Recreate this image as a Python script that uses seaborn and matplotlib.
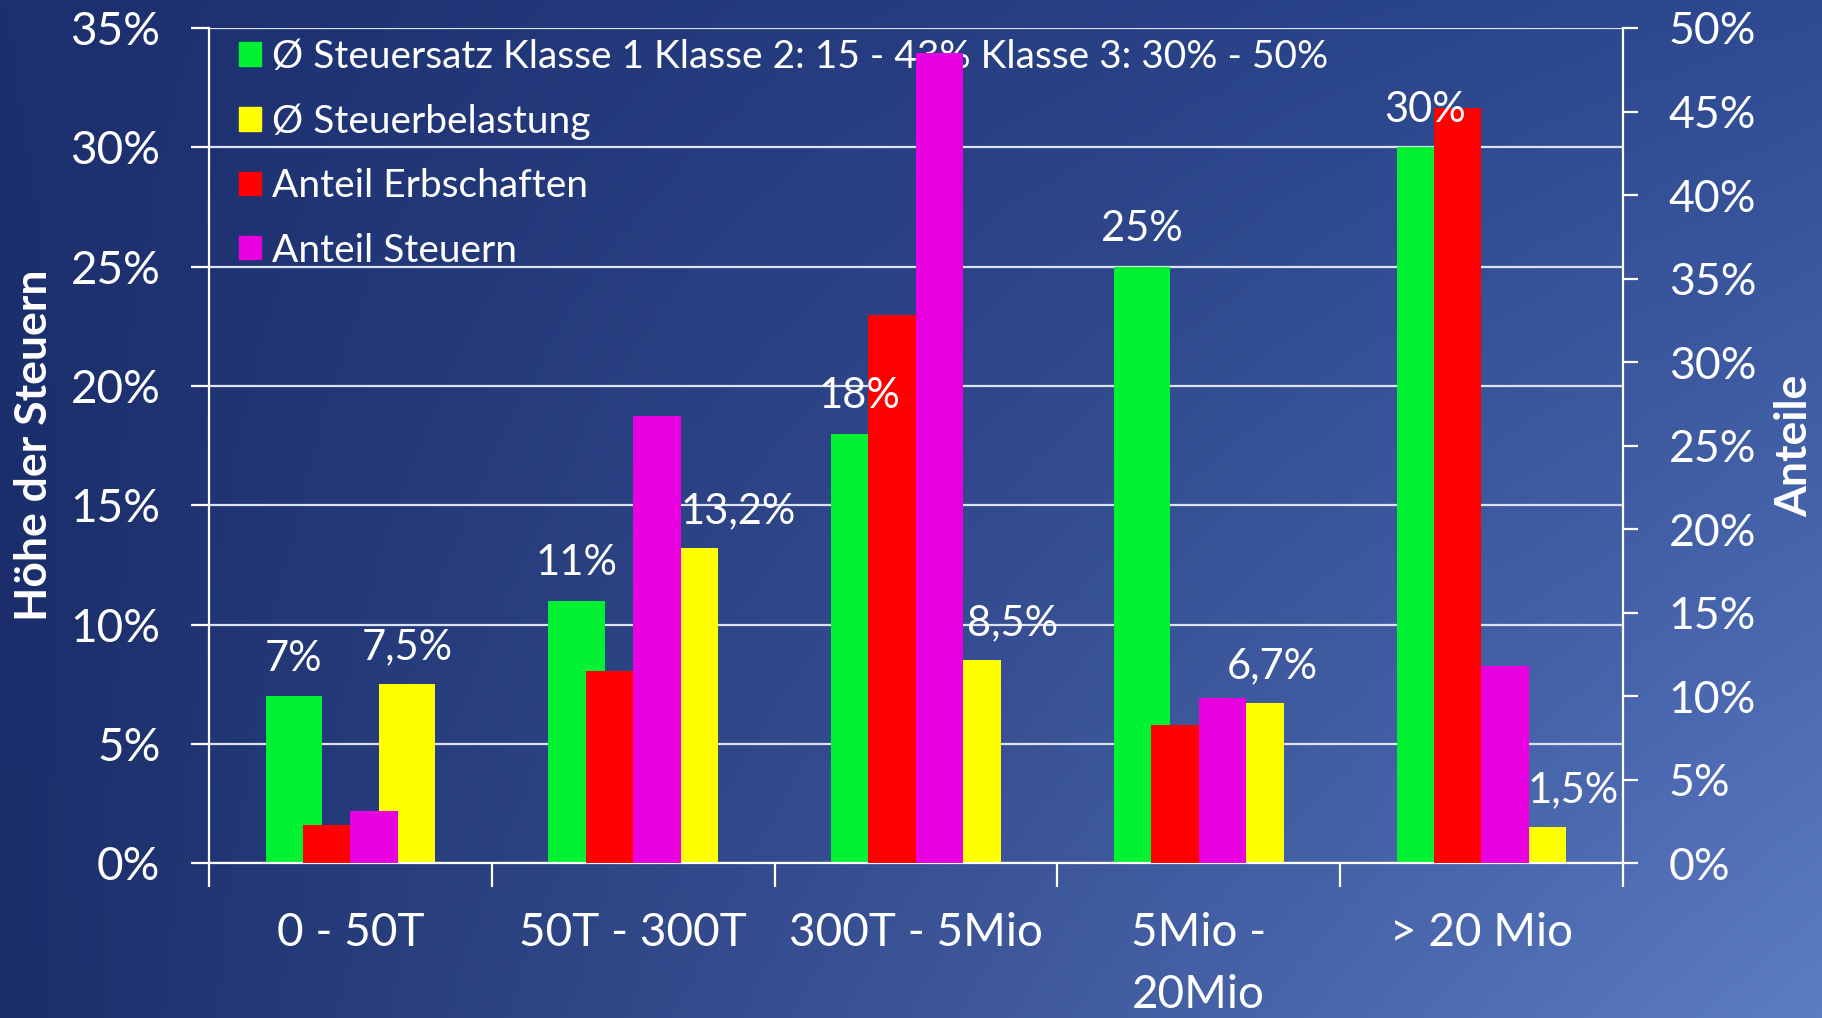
import numpy as np
import pandas as pd
import matplotlib.pyplot as plt
import seaborn as sns
from matplotlib.patches import Patch
from matplotlib.ticker import MultipleLocator, FuncFormatter

# Daten
klassen = ["0 - 50T", "50T - 300T", "300T - 5Mio", "5Mio -\n20Mio", "> 20 Mio"]
steuersatz = [7, 11, 18, 25, 30]
steuerbelastung = [7.5, 13.2, 8.5, 6.7, 1.5]
anteil_erbschaften = [2.3, 11.5, 32.8, 8.3, 45.2]
anteil_steuern = [3.1, 26.8, 48.5, 9.9, 11.8]

serien = ["Ø Steuersatz Klasse 1 Klasse 2: 15 - 43% Klasse 3: 30% - 50%",
          "Ø Steuerbelastung", "Anteil Erbschaften", "Anteil Steuern"]
farben = ["#00f233", "#ffff00", "#ff0000", "#e800e0"]

# label nudges (Excel labels were moved by hand)
gelb_label_dx = [0, 0.17, 0.14, 0.06, 0.125]

sns.set_theme(style="white")
plt.rcParams['font.family'] = ['Lato', 'DejaVu Sans']

fig = plt.figure(figsize=(18.22, 10.18), dpi=100)

# background gradient
bg = fig.add_axes([0, 0, 1, 1], zorder=-10)
tl = np.array([28, 47, 110]) / 255
tr = np.array([46, 74, 146]) / 255
bl = np.array([27, 46, 106]) / 255
br = np.array([92, 124, 196]) / 255
u = np.linspace(0, 1, 300)[None, :, None]
v = np.linspace(0, 1, 200)[:, None, None]
img = (1 - v) * ((1 - u) * tl + u * tr) + v * ((1 - u) * bl + u * br)
bg.imshow(img, aspect="auto", extent=[0, 1, 0, 1], origin="upper")
bg.set_axis_off()

ax = fig.add_axes([0.1147, 0.152, 0.776, 0.8205])
ax.set_facecolor("none")
ax2 = ax.twinx()

df_links = pd.DataFrame({
    "Klasse": klassen * 2,
    "Serie": [serien[0]] * 5 + [serien[1]] * 5,
    "Wert": steuersatz + steuerbelastung,
})
df_rechts = pd.DataFrame({
    "Klasse": klassen * 2,
    "Serie": [serien[2]] * 5 + [serien[3]] * 5,
    "Wert": anteil_erbschaften + anteil_steuern,
})

sns.barplot(data=df_links, x="Klasse", y="Wert", hue="Serie", hue_order=serien[:2],
            palette=farben[:2], width=0.8, gap=0.5, saturation=1, linewidth=0,
            errorbar=None, legend=False, ax=ax)
sns.barplot(data=df_rechts, x="Klasse", y="Wert", hue="Serie", hue_order=serien[2:],
            palette=farben[2:], width=0.336, gap=0, saturation=1, linewidth=0,
            errorbar=None, legend=False, ax=ax2)

ax.set_ylim(0, 35)
ax2.set_ylim(0, 50)
ax.set_xlim(-0.5, 4.5)
pct = FuncFormatter(lambda val, pos: f"{val:.0f}%")
ax.yaxis.set_major_locator(MultipleLocator(5))
ax.yaxis.set_major_formatter(pct)
ax2.yaxis.set_major_locator(MultipleLocator(5))
ax2.yaxis.set_major_formatter(pct)

ax.grid(axis="y", color="#dde3ee", lw=1.6)
ax.set_axisbelow(True)
ax2.grid(False)

for s in ["top", "right"]:
    ax.spines[s].set_visible(False)
for s in ["left", "bottom"]:
    ax.spines[s].set_color("white")
    ax.spines[s].set_linewidth(1.6)
for s in ["top", "left", "bottom"]:
    ax2.spines[s].set_visible(False)
ax2.spines["right"].set_color("white")
ax2.spines["right"].set_linewidth(1.6)

ax.tick_params(axis="y", left=True, direction="out", length=13, width=1.6,
               color="white", labelcolor="white", labelsize=33, pad=22)
ax2.tick_params(axis="y", right=True, direction="out", length=11, width=1.6,
                color="white", labelcolor="white", labelsize=32, pad=22)

ax.set_xticks(np.arange(6) - 0.5)
ax.set_xticklabels([])
ax.set_xticks(range(5), minor=True)
ax.set_xticklabels(klassen, minor=True, linespacing=1.6)
ax.tick_params(axis="x", which="major", bottom=True, direction="out", length=17,
               width=1.6, color="white")
ax.tick_params(axis="x", which="minor", bottom=True, length=0, labelcolor="white",
               labelsize=33, pad=35)

ax.set_xlabel("")
ax.set_ylabel("Höhe der Steuern", fontsize=32, fontweight="bold", color="white",
              va="center", ha="center")
ax.yaxis.set_label_coords(-0.124, 0.5)
ax2.set_ylabel("Anteile", fontsize=32, fontweight="bold", color="white",
               va="center", ha="center")
ax2.yaxis.set_label_coords(1.121, 0.5)

# value labels for the green and yellow bars
for bar, val in zip(ax.containers[0], steuersatz):
    ax2.annotate(f"{val:g}%", xy=(bar.get_x() + bar.get_width() / 2, bar.get_height()),
                 xycoords=ax.transData, xytext=(0, 27), textcoords="offset points",
                 ha="center", va="center", color="white", fontsize=30, zorder=10)
for bar, val, dx in zip(ax.containers[1], steuerbelastung, gelb_label_dx):
    ax2.annotate(f"{val:g}%".replace(".", ","),
                 xy=(bar.get_x() + bar.get_width() / 2 + dx, bar.get_height()),
                 xycoords=ax.transData, xytext=(0, 27), textcoords="offset points",
                 ha="center", va="center", color="white", fontsize=30, zorder=10)

handles = [Patch(color=c) for c in farben]
ax.legend(handles=handles, labels=serien, loc="upper left", bbox_to_anchor=(0.0215, 0.987),
          frameon=False, fontsize=28, labelcolor="white", handlelength=0.55,
          handleheight=0.55, handletextpad=0.3, labelspacing=0.73,
          borderaxespad=0, borderpad=0)

fig.savefig("out.png", dpi=100)
